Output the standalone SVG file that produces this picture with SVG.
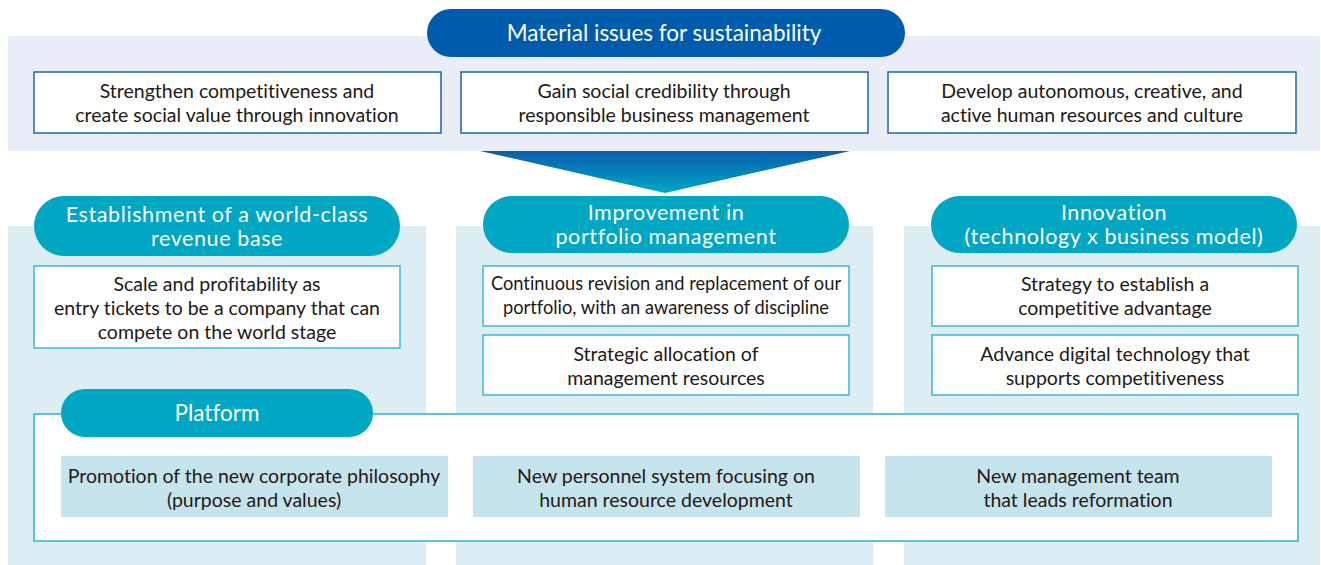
<svg xmlns="http://www.w3.org/2000/svg" width="1321" height="565" viewBox="0 0 1321 565">
<defs>
<linearGradient id="funnel" x1="0" y1="0" x2="0" y2="1">
<stop offset="0" stop-color="#0A5DAB"/>
<stop offset="1" stop-color="#00A8C6"/>
</linearGradient>
</defs>
<style>
.band{fill:#E8EDF7}
.col{fill:#DCEEF4}
.top{fill:#FFFFFF;stroke:#1F63AE;stroke-width:1.5}
.box{fill:#FFFFFF;stroke:#3DB7CF;stroke-width:1.5}
.plat{fill:#FFFFFF;stroke:#2BB0CB;stroke-width:1.5}
.inner{fill:#C6E4EC}
.pill{fill:#00A6C2}
.titlepill{fill:#005BAC}
text{font-family:Lato,"Open Sans","Liberation Sans",sans-serif;text-anchor:middle;font-variant-ligatures:none}
.t{font-size:19.5px;fill:#231815}
.tc{font-size:18.3px;fill:#231815}
.w{font-size:21.5px;letter-spacing:0.6px;fill:#FFFFFF}
.wt{font-size:22.5px;fill:#FFFFFF}
</style>
<rect width="1321" height="565" fill="#FFFFFF"/>
<g id="material-band">
<rect class="band" x="8" y="36" width="1312" height="115"/>
</g>
<g id="connectors">
<polygon points="480,151 850,151 665,193" fill="url(#funnel)"/>
</g>
<g id="material-title">
<rect class="titlepill" x="427" y="9" width="478" height="48" rx="24"/>
<text class="wt" x="664" y="41">Material issues for sustainability</text>
</g>
<g id="issue1">
<rect class="top" x="34" y="72" width="407" height="61"/>
<text class="t" x="237" y="98">Strengthen competitiveness and</text>
<text class="t" x="237" y="122">create social value through innovation</text>
</g>
<g id="issue2">
<rect class="top" x="461" y="72" width="407" height="61"/>
<text class="t" x="664" y="98">Gain social credibility through</text>
<text class="t" x="664" y="122">responsible business management</text>
</g>
<g id="issue3">
<rect class="top" x="888" y="72" width="408" height="61"/>
<text class="t" x="1092" y="98">Develop autonomous, creative, and</text>
<text class="t" x="1092" y="122">active human resources and culture</text>
</g>
<g id="columns">
<rect class="col" x="8" y="226" width="418" height="339"/>
<rect class="col" x="456" y="226" width="417" height="339"/>
<rect class="col" x="904" y="226" width="416" height="339"/>
</g>
<g id="revenue-base">
<rect class="pill" x="34" y="196" width="366" height="60" rx="30"/>
<text class="w" x="217" y="222">Establishment of a world-class</text>
<text class="w" x="217" y="246">revenue base</text>
</g>
<g id="revenue-item1">
<rect class="box" x="34" y="266" width="366" height="82"/>
<text class="t" x="217" y="291">Scale and profitability as</text>
<text class="t" x="217" y="315">entry tickets to be a company that can</text>
<text class="t" x="217" y="339">compete on the world stage</text>
</g>
<g id="portfolio">
<rect class="pill" x="483" y="196" width="366" height="57" rx="28.5"/>
<text class="w" x="666" y="220">Improvement in</text>
<text class="w" x="666" y="244">portfolio management</text>
</g>
<g id="portfolio-item1">
<rect class="box" x="483" y="266" width="366" height="60"/>
<text class="tc" x="666" y="290">Continuous revision and replacement of our</text>
<text class="tc" x="666" y="314">portfolio, with an awareness of discipline</text>
</g>
<g id="portfolio-item2">
<rect class="box" x="483" y="335" width="366" height="60"/>
<text class="t" x="666" y="361">Strategic allocation of</text>
<text class="t" x="666" y="385">management resources</text>
</g>
<g id="innovation">
<rect class="pill" x="931" y="196" width="366" height="57" rx="28.5"/>
<text class="w" x="1114" y="220">Innovation</text>
<text class="w" x="1114" y="244">(technology x business model)</text>
</g>
<g id="innovation-item1">
<rect class="box" x="932" y="266" width="366" height="60"/>
<text class="t" x="1115" y="291">Strategy to establish a</text>
<text class="t" x="1115" y="315">competitive advantage</text>
</g>
<g id="innovation-item2">
<rect class="box" x="932" y="335" width="366" height="60"/>
<text class="t" x="1115" y="361">Advance digital technology that</text>
<text class="t" x="1115" y="385">supports competitiveness</text>
</g>
<g id="platform">
<rect class="plat" x="34" y="414" width="1264" height="127"/>
<rect class="pill" x="61" y="389" width="312" height="48" rx="24"/>
<text class="wt" x="217" y="421">Platform</text>
</g>
<g id="platform-item1">
<rect class="inner" x="61" y="456" width="387" height="61"/>
<text class="t" x="254" y="483">Promotion of the new corporate philosophy</text>
<text class="t" x="254" y="507">(purpose and values)</text>
</g>
<g id="platform-item2">
<rect class="inner" x="473" y="456" width="387" height="61"/>
<text class="t" x="666" y="483">New personnel system focusing on</text>
<text class="t" x="666" y="507">human resource development</text>
</g>
<g id="platform-item3">
<rect class="inner" x="885" y="456" width="387" height="61"/>
<text class="t" x="1078" y="483">New management team</text>
<text class="t" x="1078" y="507">that leads reformation</text>
</g>
</svg>
